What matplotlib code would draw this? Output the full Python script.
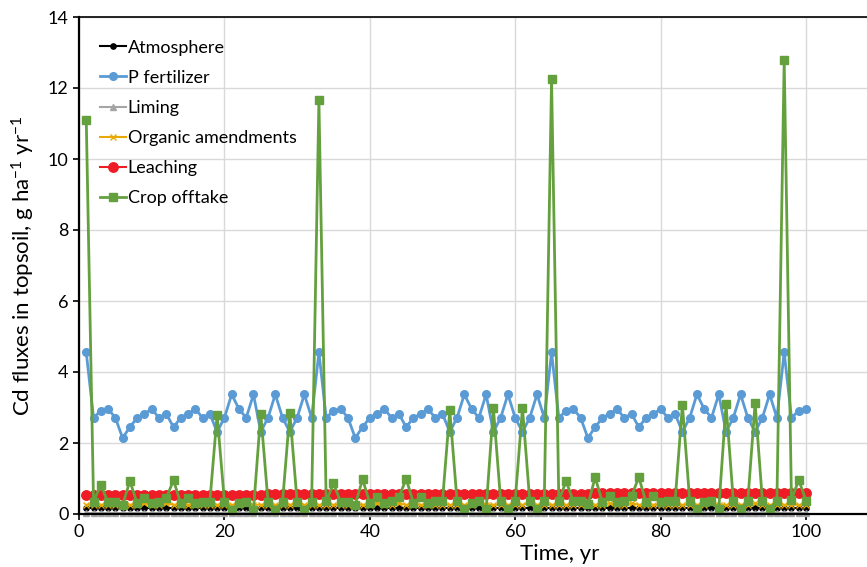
import matplotlib

matplotlib.use("Agg")

import matplotlib.pyplot as plt
import numpy as np

plt.rcParams["font.family"] = ["Lato", "DejaVu Sans"]
plt.rcParams["mathtext.fontset"] = "custom"
plt.rcParams["mathtext.rm"] = "Lato"
plt.rcParams["mathtext.it"] = "Lato:italic"

years = np.arange(1, 101)

atmosphere = [0.18] * 100

p_fertilizer = [
    4.55, 2.71, 2.91, 2.96, 2.71, 2.14, 2.45, 2.71, 2.82, 2.96,
    2.71, 2.82, 2.45, 2.71, 2.82, 2.96, 2.71, 2.82, 2.31, 2.71,
    3.37, 2.96, 2.71, 3.37, 2.31, 2.71, 3.37, 2.71, 2.31, 2.71,
    3.37, 2.71, 4.55, 2.71, 2.91, 2.96, 2.71, 2.14, 2.45, 2.71,
    2.82, 2.96, 2.71, 2.82, 2.45, 2.71, 2.82, 2.96, 2.71, 2.82,
    2.31, 2.71, 3.37, 2.96, 2.71, 3.37, 2.31, 2.71, 3.37, 2.71,
    2.31, 2.71, 3.37, 2.71, 4.55, 2.71, 2.91, 2.96, 2.71, 2.14,
    2.45, 2.71, 2.82, 2.96, 2.71, 2.82, 2.45, 2.71, 2.82, 2.96,
    2.71, 2.82, 2.31, 2.71, 3.37, 2.96, 2.71, 3.37, 2.31, 2.71,
    3.37, 2.71, 2.31, 2.71, 3.37, 2.71, 4.55, 2.71, 2.91, 2.96,
]

liming = [0.02] * 100

organic_amendments = [
    0.26, 0.26, 0.26, 0.26, 0.26, 0.26, 0.26, 0.26, 0.30, 0.26,
    0.26, 0.30, 0.26, 0.26, 0.26, 0.26, 0.26, 0.26, 0.26, 0.26,
    0.26, 0.26, 0.30, 0.26, 0.26, 0.26, 0.26, 0.26, 0.26, 0.30,
    0.26, 0.26, 0.26, 0.26, 0.26, 0.26, 0.26, 0.26, 0.26, 0.26,
    0.30, 0.26, 0.26, 0.30, 0.26, 0.26, 0.26, 0.26, 0.26, 0.26,
    0.26, 0.26, 0.26, 0.26, 0.30, 0.26, 0.26, 0.26, 0.26, 0.26,
    0.26, 0.30, 0.26, 0.26, 0.26, 0.26, 0.26, 0.26, 0.26, 0.26,
    0.26, 0.26, 0.30, 0.26, 0.26, 0.30, 0.26, 0.26, 0.26, 0.26,
    0.26, 0.26, 0.26, 0.26, 0.26, 0.26, 0.30, 0.26, 0.26, 0.26,
    0.26, 0.26, 0.30, 0.26, 0.26, 0.26, 0.26, 0.26, 0.26, 0.26,
]

leaching = [
    0.53, 0.53, 0.53, 0.53, 0.53, 0.53, 0.53, 0.53, 0.53, 0.53,
    0.54, 0.54, 0.54, 0.54, 0.54, 0.54, 0.54, 0.54, 0.54, 0.54,
    0.54, 0.54, 0.54, 0.54, 0.54, 0.55, 0.55, 0.55, 0.55, 0.55,
    0.55, 0.55, 0.55, 0.55, 0.55, 0.55, 0.55, 0.55, 0.55, 0.55,
    0.56, 0.56, 0.56, 0.56, 0.56, 0.56, 0.56, 0.56, 0.56, 0.56,
    0.56, 0.56, 0.56, 0.56, 0.56, 0.57, 0.57, 0.57, 0.57, 0.57,
    0.57, 0.57, 0.57, 0.57, 0.57, 0.57, 0.57, 0.57, 0.57, 0.57,
    0.58, 0.58, 0.58, 0.58, 0.58, 0.58, 0.58, 0.58, 0.58, 0.58,
    0.58, 0.58, 0.58, 0.58, 0.58, 0.59, 0.59, 0.59, 0.59, 0.59,
    0.59, 0.59, 0.59, 0.59, 0.59, 0.60, 0.60, 0.60, 0.60, 0.60,
]

crop_offtake = [
    11.10, 0.35, 0.82, 0.33, 0.33, 0.25, 0.93, 0.30, 0.45, 0.30,
    0.35, 0.45, 0.95, 0.30, 0.45, 0.30, 0.35, 0.35, 2.80, 0.35,
    0.12, 0.30, 0.35, 0.12, 2.83, 0.35, 0.12, 0.35, 2.85, 0.35,
    0.12, 0.35, 11.65, 0.36, 0.86, 0.34, 0.35, 0.26, 0.98, 0.32,
    0.47, 0.32, 0.37, 0.47, 0.99, 0.32, 0.47, 0.32, 0.37, 0.37,
    2.92, 0.37, 0.13, 0.32, 0.37, 0.13, 2.98, 0.37, 0.13, 0.37,
    2.99, 0.37, 0.13, 0.37, 12.25, 0.38, 0.92, 0.36, 0.37, 0.27,
    1.03, 0.33, 0.50, 0.33, 0.38, 0.50, 1.04, 0.33, 0.50, 0.33,
    0.38, 0.38, 3.07, 0.38, 0.13, 0.33, 0.38, 0.13, 3.09, 0.38,
    0.13, 0.38, 3.12, 0.38, 0.13, 0.38, 12.78, 0.40, 0.96, 0.38,
]

x_ticks = [0, 20, 40, 60, 80, 100]
y_ticks = [0, 2, 4, 6, 8, 10, 12, 14]

fig = plt.figure(figsize=(8.67, 5.67), dpi=100)
# plot area runs past the right edge of the figure, so the 120 end is cut off
ax = fig.add_axes([79 / 867, 53 / 567, 120 * 7.27 / 867, 497 / 567])

series = [
    ("Atmosphere", atmosphere, "#000000", "o", 3.8, 1.5),
    ("P fertilizer", p_fertilizer, "#5B9BD5", "o", 5.5, 2.0),
    ("Liming", liming, "#A5A5A5", "^", 4.5, 1.5),
    ("Organic amendments", organic_amendments, "#E8A900", "x", 4.0, 1.5),
    ("Leaching", leaching, "#EE1C25", "o", 6.8, 1.5),
    ("Crop offtake", crop_offtake, "#64A03E", "s", 5.8, 2.0),
]
for label, values, color, marker, size, lw in series:
    ax.plot(years, values, color=color, marker=marker, markersize=size,
            linewidth=lw, label=label, clip_on=False)

ax.set_xlim(0, 120)
ax.set_ylim(0, 14)
ax.set_xticks(x_ticks)
ax.set_yticks(y_ticks)
ax.tick_params(axis="both", labelsize=13, length=4, width=1.2, color="black")
ax.grid(True, color="#D9D9D9", linewidth=1.0)
ax.set_axisbelow(True)

for side in ["left", "bottom"]:
    ax.spines[side].set_linewidth(1.6)
ax.spines["top"].set_linewidth(1.2)
ax.spines["right"].set_visible(False)

ax.set_xlabel("Time, yr", fontsize=16, labelpad=0)
ax.xaxis.set_label_coords(0.551, -0.06)
ax.set_ylabel("Cd fluxes in topsoil, g ha$^{-1}$ yr$^{-1}$", fontsize=16, labelpad=8)

ax.legend(loc="upper left", bbox_to_anchor=(0.006, 0.987), frameon=False,
          fontsize=13, handlelength=1.4, handletextpad=0.1, labelspacing=0.78)

fig.savefig("out.png", dpi=100)
